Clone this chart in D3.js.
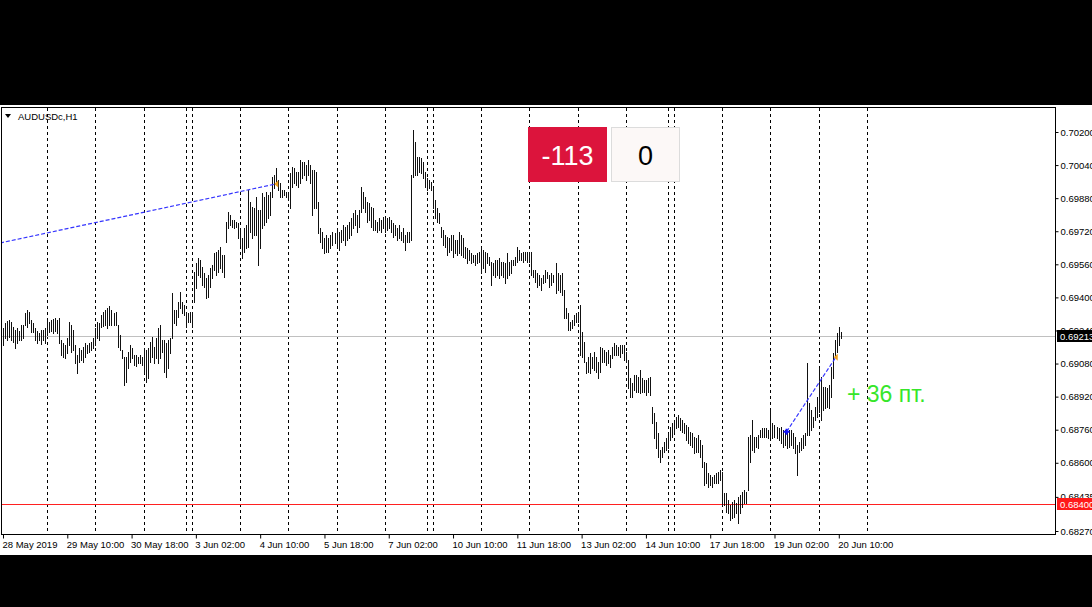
<!DOCTYPE html>
<html><head><meta charset="utf-8">
<script src="https://cdn.jsdelivr.net/npm/d3@7/dist/d3.min.js"></script>
<style>html,body{margin:0;padding:0;background:#000;overflow:hidden}svg{display:block}</style>
</head><body>
<script>
// ---- DATA ----
const symbolTitle = "AUDUSDc,H1";
const highs = [
0.69253,0.69277,0.69286,0.69291,0.69282,0.69257,0.69243,0.69253,0.69238,0.69267,
0.69267,0.69325,0.69340,0.69330,0.69291,0.69277,0.69253,0.69238,0.69228,0.69243,
0.69243,0.69253,0.69291,0.69282,0.69291,0.69296,0.69301,0.69291,0.69301,0.69195,
0.69180,0.69170,0.69204,0.69282,0.69267,0.69243,0.69170,0.69122,0.69156,0.69146,
0.69161,0.69180,0.69170,0.69180,0.69185,0.69204,0.69253,0.69282,0.69277,0.69315,
0.69330,0.69340,0.69349,0.69359,0.69340,0.69325,0.69330,0.69267,0.69219,0.69146,
0.69112,0.69112,0.69137,0.69170,0.69156,0.69122,0.69122,0.69112,0.69122,0.69112,
0.69156,0.69146,0.69156,0.69185,0.69209,0.69161,0.69204,0.69253,0.69267,0.69195,
0.69195,0.69180,0.69195,0.69204,0.69422,0.69340,0.69340,0.69378,0.69427,0.69378,
0.69364,0.69330,0.69325,0.69330,0.69330,0.69523,0.69567,0.69591,0.69581,0.69547,
0.69518,0.69494,0.69509,0.69543,0.69557,0.69615,0.69620,0.69629,0.69644,0.69605,
0.69605,0.69765,0.69813,0.69799,0.69774,0.69774,0.69765,0.69760,0.69736,0.69687,
0.69736,0.69750,0.69919,0.69861,0.69837,0.69832,0.69886,0.69823,0.69823,0.69905,
0.69886,0.69910,0.69895,0.69910,0.69982,0.69992,0.70026,0.69968,0.69953,0.69919,
0.69919,0.69910,0.69910,0.70002,0.70031,0.70026,0.70007,0.70007,0.70065,0.70055,
0.70055,0.70040,0.70065,0.70040,0.70016,0.70016,0.70007,0.69861,0.69736,0.69716,
0.69687,0.69702,0.69687,0.69702,0.69716,0.69712,0.69736,0.69716,0.69726,0.69750,
0.69741,0.69750,0.69765,0.69784,0.69808,0.69823,0.69799,0.69823,0.69934,0.69910,
0.69886,0.69861,0.69857,0.69837,0.69832,0.69774,0.69765,0.69784,0.69774,0.69789,
0.69784,0.69784,0.69789,0.69774,0.69760,0.69750,0.69736,0.69750,0.69716,0.69736,
0.69702,0.69716,0.69716,0.69992,0.70210,0.70152,0.70079,0.70079,0.70074,0.70055,
0.70007,0.69978,0.69968,0.69958,0.69929,0.69871,0.69832,0.69808,0.69741,0.69726,
0.69702,0.69692,0.69687,0.69702,0.69702,0.69678,0.69678,0.69716,0.69702,0.69687,
0.69644,0.69639,0.69629,0.69615,0.69605,0.69605,0.69615,0.69620,0.69644,0.69629,
0.69620,0.69615,0.69596,0.69571,0.69567,0.69581,0.69581,0.69591,0.69571,0.69571,
0.69567,0.69615,0.69571,0.69581,0.69581,0.69596,0.69644,0.69629,0.69615,0.69620,
0.69620,0.69620,0.69620,0.69620,0.69533,0.69533,0.69518,0.69509,0.69494,0.69509,
0.69533,0.69523,0.69509,0.69518,0.69509,0.69567,0.69518,0.69509,0.69518,0.69436,
0.69349,0.69325,0.69282,0.69291,0.69315,0.69325,0.69325,0.69364,0.69233,0.69185,
0.69088,0.69112,0.69132,0.69112,0.69137,0.69112,0.69088,0.69161,0.69156,0.69146,
0.69137,0.69146,0.69122,0.69161,0.69180,0.69170,0.69161,0.69170,0.69170,0.69170,
0.69137,0.69098,0.69011,0.68987,0.69025,0.69025,0.69016,0.69050,0.69011,0.69001,
0.69001,0.69011,0.69016,0.68871,0.68842,0.68798,0.68745,0.68663,0.68677,0.68702,
0.68721,0.68745,0.68774,0.68793,0.68808,0.68822,0.68832,0.68818,0.68808,0.68793,
0.68784,0.68774,0.68750,0.68745,0.68726,0.68721,0.68735,0.68711,0.68687,0.68605,
0.68600,0.68552,0.68542,0.68532,0.68542,0.68552,0.68557,0.68566,0.68557,0.68455,
0.68455,0.68421,0.68397,0.68412,0.68421,0.68407,0.68436,0.68445,0.68460,0.68470,
0.68460,0.68726,0.68735,0.68808,0.68726,0.68726,0.68735,0.68760,0.68769,0.68769,
0.68769,0.68760,0.68856,0.68793,0.68784,0.68774,0.68769,0.68774,0.68760,0.68760,
0.68750,0.68760,0.68760,0.68745,0.68726,0.68687,0.68702,0.68721,0.68735,0.68745,
0.69083,0.68890,0.68856,0.68822,0.68871,0.68919,0.69059,0.69016,0.68967,0.68967,
0.68963,0.68977,0.69064,0.69132,0.69195,0.69228,0.69257,0.69233
];
const lows = [
0.69170,0.69204,0.69195,0.69209,0.69195,0.69185,0.69156,0.69180,0.69195,0.69195,
0.69204,0.69267,0.69257,0.69277,0.69233,0.69233,0.69195,0.69180,0.69195,0.69175,
0.69195,0.69180,0.69219,0.69233,0.69238,0.69228,0.69238,0.69228,0.69180,0.69122,
0.69112,0.69108,0.69132,0.69170,0.69137,0.69146,0.69083,0.69035,0.69088,0.69098,
0.69088,0.69112,0.69132,0.69137,0.69146,0.69156,0.69170,0.69204,0.69195,0.69257,
0.69262,0.69267,0.69253,0.69267,0.69267,0.69267,0.69267,0.69161,0.69146,0.69108,
0.68977,0.68992,0.69059,0.69088,0.69108,0.69074,0.69069,0.69083,0.69083,0.69074,
0.69035,0.68992,0.69011,0.69088,0.69112,0.69083,0.69108,0.69083,0.69108,0.69137,
0.69040,0.69016,0.69059,0.69132,0.69204,0.69277,0.69267,0.69306,0.69349,0.69325,
0.69315,0.69257,0.69282,0.69282,0.69257,0.69378,0.69446,0.69509,0.69499,0.69460,
0.69451,0.69398,0.69402,0.69451,0.69494,0.69533,0.69509,0.69523,0.69543,0.69523,
0.69499,0.69668,0.69736,0.69750,0.69741,0.69736,0.69741,0.69687,0.69654,0.69591,
0.69620,0.69639,0.69644,0.69716,0.69687,0.69702,0.69702,0.69557,0.69639,0.69736,
0.69750,0.69765,0.69784,0.69799,0.69886,0.69929,0.69953,0.69919,0.69886,0.69886,
0.69895,0.69886,0.69871,0.69832,0.69934,0.69953,0.69944,0.69934,0.69953,0.69978,
0.69992,0.69968,0.69992,0.69953,0.69799,0.69832,0.69832,0.69712,0.69668,0.69639,
0.69615,0.69620,0.69620,0.69639,0.69654,0.69663,0.69639,0.69629,0.69668,0.69678,
0.69654,0.69678,0.69687,0.69702,0.69736,0.69750,0.69716,0.69741,0.69813,0.69832,
0.69813,0.69765,0.69774,0.69741,0.69726,0.69726,0.69716,0.69726,0.69716,0.69736,
0.69716,0.69726,0.69736,0.69716,0.69692,0.69702,0.69678,0.69687,0.69678,0.69668,
0.69629,0.69668,0.69668,0.69678,0.69982,0.69992,0.69992,0.70007,0.70002,0.69978,
0.69934,0.69919,0.69929,0.69919,0.69832,0.69784,0.69765,0.69760,0.69692,0.69654,
0.69644,0.69605,0.69620,0.69629,0.69596,0.69615,0.69605,0.69615,0.69605,0.69596,
0.69591,0.69567,0.69581,0.69567,0.69571,0.69557,0.69567,0.69571,0.69518,0.69543,
0.69523,0.69567,0.69557,0.69460,0.69509,0.69499,0.69509,0.69494,0.69509,0.69499,
0.69470,0.69494,0.69509,0.69518,0.69557,0.69557,0.69571,0.69581,0.69581,0.69571,
0.69581,0.69571,0.69571,0.69509,0.69499,0.69475,0.69451,0.69460,0.69436,0.69470,
0.69475,0.69494,0.69451,0.69460,0.69475,0.69422,0.69436,0.69427,0.69412,0.69301,
0.69301,0.69243,0.69243,0.69253,0.69267,0.69282,0.69282,0.69122,0.69112,0.69088,
0.69035,0.69040,0.69035,0.69059,0.69050,0.69040,0.69011,0.69040,0.69088,0.69088,
0.69074,0.69083,0.69064,0.69108,0.69122,0.69122,0.69122,0.69112,0.69132,0.69098,
0.69088,0.68963,0.68919,0.68919,0.68953,0.68943,0.68943,0.68938,0.68943,0.68943,
0.68929,0.68943,0.68929,0.68793,0.68721,0.68673,0.68629,0.68605,0.68629,0.68653,
0.68663,0.68673,0.68711,0.68726,0.68750,0.68769,0.68774,0.68760,0.68750,0.68745,
0.68711,0.68697,0.68687,0.68677,0.68648,0.68653,0.68653,0.68629,0.68581,0.68494,
0.68503,0.68484,0.68494,0.68484,0.68503,0.68503,0.68503,0.68518,0.68397,0.68397,
0.68363,0.68358,0.68325,0.68334,0.68339,0.68358,0.68310,0.68358,0.68387,0.68407,
0.68407,0.68470,0.68605,0.68663,0.68653,0.68677,0.68673,0.68726,0.68726,0.68726,
0.68726,0.68721,0.68726,0.68721,0.68726,0.68721,0.68711,0.68697,0.68677,0.68687,
0.68673,0.68677,0.68687,0.68673,0.68648,0.68542,0.68653,0.68663,0.68673,0.68687,
0.68735,0.68735,0.68760,0.68774,0.68808,0.68822,0.68847,0.68808,0.68856,0.68866,
0.68871,0.68866,0.68919,0.69011,0.69112,0.69137,0.69170,0.69204
];
const timeLabels = ["28 May 2019","29 May 10:00","30 May 18:00","3 Jun 02:00","4 Jun 10:00","5 Jun 18:00","7 Jun 02:00","10 Jun 10:00","11 Jun 18:00","13 Jun 02:00","14 Jun 10:00","17 Jun 18:00","19 Jun 02:00","20 Jun 10:00"];
const timeLabelBars = [0,32,64,96,128,160,192,224,256,288,320,352,384,416];
const daySeparatorBars = [22,46,70,91,94,118,142,166,190,211,214,238,262,286,310,331,334,358,382,406,430];
const priceTicks = [0.70200,0.70040,0.69880,0.69720,0.69560,0.69400,0.69240,0.69080,0.68920,0.68760,0.68600,0.68435,0.68270];
const bidPrice = 0.69213;
const levelPrice = 0.68400;
// closed trades: [openBar, openPrice, closeBar, closePrice]
const trade1 = [-1.5, 0.69663, 136, 0.69949];
const trade2 = [390, 0.68750, 414.5, 0.69110];
const resultBoxes = ["-113", "0"];
const profitLabel = "+ 36 пт.";

// ---- DRAW ----
const W = 1092, H = 607;
const FONT = "'Liberation Sans', Arial, sans-serif";
const svg = d3.select("body").append("svg").attr("width", W).attr("height", H);
svg.append("rect").attr("width", W).attr("height", H).attr("fill", "#000");
svg.append("rect").attr("x", 0).attr("y", 105).attr("width", W).attr("height", 450).attr("fill", "#fff");

const L = 2, R = 1055, T = 108, B = 534;
const x = d3.scaleLinear().domain([0, 417]).range([3, 840.8]);
const y = d3.scaleLinear().domain([0.68270, 0.70200]).range([531, 132]);

svg.append("defs").append("clipPath").attr("id", "plot")
  .append("rect").attr("x", L).attr("y", T).attr("width", R - L).attr("height", B - T);
const plot = svg.append("g").attr("clip-path", "url(#plot)");

// day separators
plot.selectAll("line.sep").data(daySeparatorBars).join("line")
  .attr("class", "sep")
  .attr("x1", d => Math.round(x(d)) + 0.5).attr("x2", d => Math.round(x(d)) + 0.5)
  .attr("y1", T).attr("y2", B)
  .attr("stroke", "#000").attr("stroke-width", 1).attr("stroke-dasharray", "3,3");

// bid line and level line
plot.append("line").attr("x1", L).attr("x2", R)
  .attr("y1", Math.round(y(bidPrice)) + 0.5).attr("y2", Math.round(y(bidPrice)) + 0.5)
  .attr("stroke", "#c0c0c0");
plot.append("line").attr("x1", L).attr("x2", R)
  .attr("y1", Math.round(y(levelPrice)) + 0.5).attr("y2", Math.round(y(levelPrice)) + 0.5)
  .attr("stroke", "#ff2020");

// bars
plot.selectAll("rect.bar").data(highs).join("rect")
  .attr("class", "bar")
  .attr("shape-rendering", "crispEdges")
  .attr("x", (d, i) => Math.round(x(i)))
  .attr("width", 1)
  .attr("y", d => Math.round(y(d)))
  .attr("height", (d, i) => Math.max(1, Math.round(y(lows[i])) - Math.round(y(d)) + 1))
  .attr("fill", "#111");

// trade lines
function trade(t, showCross) {
  plot.append("line")
    .attr("x1", x(t[0])).attr("y1", y(t[1])).attr("x2", x(t[2])).attr("y2", y(t[3]))
    .attr("stroke", "#3434ff").attr("stroke-width", 1.2).attr("stroke-dasharray", "4,2");
  if (showCross) {
    const cx = x(t[0]), cy = y(t[1]);
    plot.append("path").attr("d", `M${cx-3},${cy}H${cx+3}M${cx},${cy-3}V${cy+3}`)
      .attr("stroke", "#1010ff").attr("stroke-width", 2);
  }
  const ax = x(t[2]), ay = y(t[3]);
  plot.append("path").attr("d", `M${ax-2},${ay}L${ax+2},${ay-3.5}L${ax+2},${ay+3.5}Z`)
    .attr("fill", "#f0a020");
}
trade(trade1, false);
trade(trade2, true);

// frame
svg.append("rect").attr("x", L - 0.5).attr("y", T - 0.5).attr("width", R - L + 1).attr("height", B - T + 1)
  .attr("fill", "none").attr("stroke", "#000").attr("stroke-width", 1);

// price axis
const yAxis = d3.axisRight(y).tickValues(priceTicks).tickFormat(d3.format(".5f")).tickSize(3).tickPadding(2);
const ya = svg.append("g").attr("transform", `translate(${R + 0.5},0)`).call(yAxis);
ya.select(".domain").remove();
ya.selectAll("line").attr("stroke", "#000");
ya.selectAll("text").attr("font-family", FONT).attr("font-size", 9.5).attr("fill", "#000");

// time axis
const xAxis = d3.axisBottom(x).tickValues(timeLabelBars).tickFormat((d, i) => timeLabels[i]).tickSize(4).tickPadding(3);
const xa = svg.append("g").attr("transform", `translate(0,${B + 0.5})`).call(xAxis);
xa.select(".domain").remove();
xa.selectAll("line").attr("stroke", "#000");
xa.selectAll("text").attr("font-family", FONT).attr("font-size", 9.5).attr("fill", "#000")
  .attr("text-anchor", "start").attr("x", -1);

// price tags on axis
function tag(p, bg) {
  const yy = Math.round(y(p));
  svg.append("rect").attr("x", R + 2).attr("y", yy - 6).attr("width", W - R - 2).attr("height", 12).attr("fill", bg);
  svg.append("text").attr("x", R + 5).attr("y", yy + 4).attr("font-family", FONT).attr("font-size", 9.5)
    .attr("fill", "#fff").text(d3.format(".5f")(p));
}
tag(bidPrice, "#000");
tag(levelPrice, "#ff1a1a");

// title
svg.append("path").attr("d", "M5,114L11,114L8,118Z").attr("fill", "#000");
svg.append("text").attr("x", 18).attr("y", 119.5).attr("font-family", FONT).attr("font-size", 9.5)
  .attr("fill", "#000").text(symbolTitle);

// result boxes
svg.append("rect").attr("x", 528).attr("y", 127).attr("width", 79).attr("height", 55).attr("fill", "#dc143c");
svg.append("text").attr("x", 567.5).attr("y", 165).attr("text-anchor", "middle").attr("font-family", FONT)
  .attr("font-size", 27).attr("fill", "#fff").text(resultBoxes[0]);
svg.append("rect").attr("x", 611.5).attr("y", 127.5).attr("width", 68).attr("height", 54).attr("fill", "#fcf8f7")
  .attr("stroke", "#dcdcdc");
svg.append("text").attr("x", 645.5).attr("y", 165).attr("text-anchor", "middle").attr("font-family", FONT)
  .attr("font-size", 27).attr("fill", "#000").text(resultBoxes[1]);

// profit label
svg.append("text").attr("x", 847).attr("y", 402).attr("font-family", FONT).attr("font-size", 23)
  .attr("fill", "#36e62a").text(profitLabel);
</script>
</body></html>
